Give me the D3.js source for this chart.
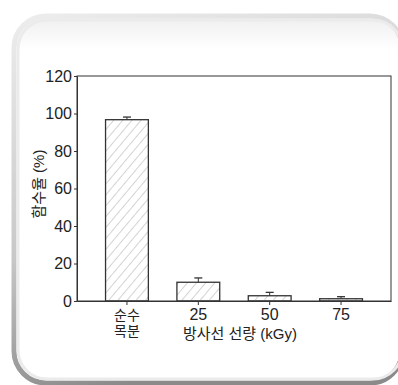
<!DOCTYPE html>
<html>
<head>
<meta charset="utf-8">
<script src="https://cdn.jsdelivr.net/npm/d3@7"></script>
<style>
body { margin: 0; background: #fff; }
svg text { font-family: Arial, "Liberation Sans", "Noto Sans CJK KR", sans-serif; fill: #222; }
</style>
</head>
<body>
<div id="chart"></div>
<script>
// data
var categories = ["순수\n목분", "25", "50", "75"];
var moisture = [96.7, 10.0, 2.8, 1.2];
var errors = [1.4, 2.3, 1.8, 1.1];
var yTicks = [0, 20, 40, 60, 80, 100, 120];

var width = 398, height = 385;
var margin = {left: 77, right: 7, top: 76, bottom: 84};
var w = width - margin.left - margin.right;
var h = height - margin.top - margin.bottom;

var svg = d3.select("#chart").append("svg")
	.attr("width", width)
	.attr("height", height);

var defs = svg.append("defs");
var grad = defs.append("linearGradient")
	.attr("id", "frameGrad")
	.attr("x1", 0).attr("y1", 0).attr("x2", 0.3).attr("y2", 1);
grad.append("stop").attr("offset", "0%").attr("stop-color", "#ededed");
grad.append("stop").attr("offset", "60%").attr("stop-color", "#c8c8c8");
grad.append("stop").attr("offset", "100%").attr("stop-color", "#8a8a8a");

var bgGrad = defs.append("linearGradient")
	.attr("id", "bgGrad")
	.attr("x1", 0).attr("y1", 0).attr("x2", 0).attr("y2", 1);
bgGrad.append("stop").attr("offset", "0%").attr("stop-color", "#eeeeee");
bgGrad.append("stop").attr("offset", "9%").attr("stop-color", "#ffffff");

defs.append("pattern")
	.attr("id", "hatch")
	.attr("patternUnits", "userSpaceOnUse")
	.attr("width", 7).attr("height", 7)
	.attr("patternTransform", "rotate(40)")
	.append("line")
	.attr("x1", 0).attr("y1", 0).attr("x2", 0).attr("y2", 7)
	.attr("stroke", "#a8a8a8")
	.attr("stroke-width", 1);

// rounded frame
svg.append("rect")
	.attr("x", 14).attr("y", 16)
	.attr("width", 388).attr("height", 367)
	.attr("rx", 32).attr("ry", 32)
	.attr("fill", "url(#bgGrad)")
	.attr("stroke", "url(#frameGrad)")
	.attr("stroke-width", 5);
svg.append("rect")
	.attr("x", 18).attr("y", 20)
	.attr("width", 384).attr("height", 359)
	.attr("rx", 29).attr("ry", 29)
	.attr("fill", "none")
	.attr("stroke", "#ebebeb")
	.attr("stroke-width", 3);

var g = svg.append("g")
	.attr("transform", "translate(" + margin.left + "," + margin.top + ")");

var xScale = d3.scaleBand().domain(categories).range([0, w]).padding(0.4);
var yScale = d3.scaleLinear().domain([0, 120]).range([h, 0]);

// box
g.append("rect")
	.attr("x", 0).attr("y", 0)
	.attr("width", w).attr("height", h)
	.attr("fill", "#fff")
	.attr("stroke", "#333")
	.attr("stroke-width", 1);

var bars = g.selectAll("g.bar")
	.data(categories.map(function(c, i){
		return {cat: c, v: moisture[i], e: errors[i]};
	}))
	.enter().append("g")
	.classed("bar", true);

bars.append("rect")
	.attr("x", function(d){ return xScale(d.cat); })
	.attr("y", function(d){ return yScale(d.v); })
	.attr("width", xScale.bandwidth())
	.attr("height", function(d){ return h - yScale(d.v); })
	.attr("fill", "url(#hatch)")
	.attr("stroke", "#333")
	.attr("stroke-width", 1.3);

bars.append("line")
	.attr("x1", function(d){ return xScale(d.cat) + xScale.bandwidth()/2; })
	.attr("x2", function(d){ return xScale(d.cat) + xScale.bandwidth()/2; })
	.attr("y1", function(d){ return yScale(d.v); })
	.attr("y2", function(d){ return yScale(d.v + d.e); })
	.attr("stroke", "#333");
bars.append("line")
	.attr("x1", function(d){ return xScale(d.cat) + xScale.bandwidth()/2 - 4; })
	.attr("x2", function(d){ return xScale(d.cat) + xScale.bandwidth()/2 + 4; })
	.attr("y1", function(d){ return yScale(d.v + d.e); })
	.attr("y2", function(d){ return yScale(d.v + d.e); })
	.attr("stroke", "#333")
	.attr("stroke-width", 1.3);

var yAxis = g.append("g")
	.call(d3.axisLeft(yScale).tickValues(yTicks).tickSize(3).tickPadding(2).tickSizeOuter(0));
var xAxis = g.append("g")
	.attr("transform", "translate(0," + h + ")")
	.call(d3.axisBottom(xScale).tickSize(4).tickPadding(3).tickSizeOuter(0).tickFormat(""));

[yAxis, xAxis].forEach(function(a){
	a.select(".domain").attr("stroke", "#333");
	a.selectAll(".tick line").attr("stroke", "#333");
	a.selectAll("text").style("font-size", "16px").attr("fill", "#222");
});

// x tick labels, some on two lines
xAxis.selectAll(".tick").each(function(d){
	var lines = d.split("\n");
	var t = d3.select(this).append("text")
		.attr("fill", "#222")
		.attr("text-anchor", "middle")
		.attr("y", 19)
		.style("font-size", lines.length > 1 ? "14px" : "16px");
	lines.forEach(function(l, i){
		t.append("tspan")
			.attr("x", 0)
			.attr("dy", i === 0 ? 0 : 15.5)
			.text(l);
	});
});

svg.append("text")
	.attr("x", 240)
	.attr("y", 339)
	.attr("text-anchor", "middle")
	.style("font-size", "15px")
	.text("방사선 선량 (kGy)");

svg.append("text")
	.attr("transform", "translate(44," + 184 + ") rotate(-90)")
	.attr("text-anchor", "middle")
	.style("font-size", "15px")
	.text("함수율 (%)");
</script>
</body>
</html>
